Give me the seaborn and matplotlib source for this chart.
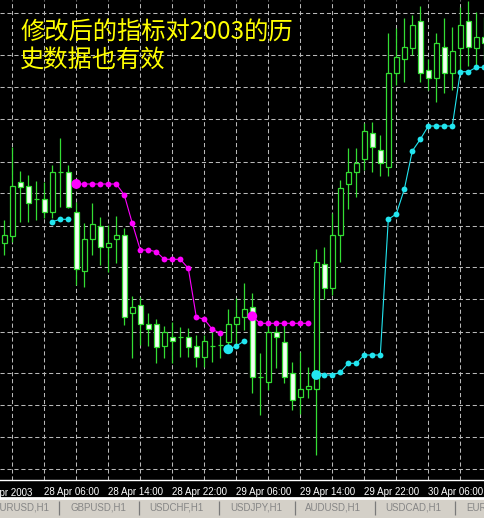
"""
MT4 风格 K线图复刻：EURUSD H1（2003年4月28-30日）+ 趋势止损指标
"""

import numpy as np
import pandas as pd
import matplotlib.pyplot as plt
import seaborn as sns

# ========== 数据 ==========
# 每根 H1 K线的开高低收（相对点位，图上读出）
bar_open = [236.7, 244, 298, 294, 280.7, 281, 268.3, 308.3, 308.3, 268.3,
            209, 240.7, 254, 232.7, 240.7, 245, 166.7, 175, 155.7, 155.7,
            134.3, 143.3, 143.3, 143.3, 134.3, 123.3, 134.3, 134.7, 138.3, 156,
            162.7, 172.7, 102.7, 98.3, 147.7, 138.3, 107.5, 83.5, 90.7, 90.7,
            215.7, 191.7, 245, 295.7, 308.3, 321, 346.7, 330, 313.3, 406.7,
            420.7, 431.7, 459.3, 410, 401.7, 433.3, 407.3, 431.7, 459.3, 431.7,
            442.7]
bar_high = [260, 333.3, 309.3, 305, 299.3, 298, 315, 341.7, 315, 278.3,
            256.7, 277.3, 262.7, 255, 264, 251.7, 184, 183, 166.7, 160.7,
            154, 158.3, 153.3, 151.7, 145, 145, 148.3, 146.7, 170.7, 181.7,
            197, 186.7, 127, 155, 155, 155, 118, 128, 113, 230.7,
            232.7, 266.7, 300, 331.7, 331.7, 357.3, 358, 345, 446.7, 451.7,
            461.7, 465, 474, 420.7, 446.7, 461.7, 453.3, 473.3, 479, 468.3,
            463.3]
bar_low = [225, 238.3, 258.3, 258.3, 260, 262, 262, 273.3, 272, 195,
           193.3, 225, 215, 208.3, 216.7, 155, 121.7, 135, 134, 117.3,
           121.7, 116.7, 123.3, 123.3, 113.3, 113.3, 118.3, 122, 130, 133.3,
           150, 87.3, 65, 90, 111.7, 96.7, 70, 66, 81.7, 25,
           181, 185, 218.3, 271, 283.5, 310.5, 308, 304, 304, 395,
           398.3, 425, 398.3, 390, 378.3, 386.7, 390, 410, 414, 413.3,
           420]
bar_close = [245, 294, 293.3, 276.7, 280.7, 268.3, 308.3, 308.3, 273.3, 210.7,
             240.7, 255.7, 232.7, 236.7, 245, 163.3, 172.7, 156, 151.3, 133.3,
             147.7, 139, 143.3, 132.7, 123.3, 139, 134.3, 134.7, 156, 163.3,
             170.7, 102.7, 102.7, 147.7, 143.3, 102.7, 80, 90.7, 94.3, 217.7,
             191.7, 245, 291.7, 308.3, 316.7, 349, 333, 316.7, 406.7, 422.7,
             433.3, 455, 406.7, 401.7, 437.3, 406.7, 429.3, 455, 433.3, 442.7,
             437.3]

# 指标：下降段（品红，压在价格上方）与上升段（青色，托在价格下方）
# 每段 = (起始K线序号, 各点数值)
down_segments = [
    (9, [296, 296, 296, 296, 296, 296, 285, 256.7, 230, 230,
         228.3, 220.7, 220.7, 220.7, 211.7, 163, 160.7, 150.7, 146.7]),
    (31, [163.7, 156.7, 156.7, 156.7, 156.7, 156.7, 156.7, 156.7]),
]
up_segments = [
    (6, [258.3, 260.7, 260.7]),
    (28, [130.7, 134, 139]),
    (39, [105, 105, 105, 107.7, 116.7, 116.7, 125, 125, 125, 260.7,
          266, 290.7, 329, 340.7, 354, 354, 354, 354, 408.3, 408.3,
          412.7, 412.7]),
]
# 信号起点（大圆点）
down_signal_bars = [9, 31]
up_signal_bars = [28, 39]

# 水平网格所在价位
grid_levels = [466.7, 425, 392.7, 360.7, 318.3, 286.7, 254.3, 212.7,
               180.7, 148.3, 106.7, 74.7, 42.7, 11]

# 时间轴
bar_times = pd.date_range('2003-04-28 01:00', periods=len(bar_open), freq='h')
first_label = '28 Apr 2003'

# 底部品种标签页
tab_names = ['EURUSD,H1', 'GBPUSD,H1', 'USDCHF,H1', 'USDJPY,H1',
             'AUDUSD,H1', 'USDCAD,H1', 'EURJPY,H1']

title_lines = ['修改后的指标对2003的历', '史数据也有效']

# ========== 样式 ==========
sns.set_style('dark', rc={'axes.facecolor': 'black', 'figure.facecolor': 'black'})
plt.rcParams['font.family'] = ['Liberation Sans', 'Noto Sans CJK SC', 'DejaVu Sans']
plt.rcParams['lines.scale_dashes'] = False

GREEN = '#33dd33'
BEAR_FILL = '#f2fff2'
MAGENTA = '#ff00ff'
CYAN = '#22e6f0'
GRID = '#b8b8b8'

W, H = 485, 518
fig = plt.figure(figsize=(W / 100, H / 100), dpi=100, facecolor='black')
ax = fig.add_axes([0, 1 - 479.5 / H, 1, 479.5 / H])
ax.set_facecolor('black')

# ========== 网格 ==========
for lv in grid_levels:
    ax.axhline(lv, color=GRID, lw=0.75, ls=(0, (3, 2)), zorder=1)
n = len(bar_open)
for b in range(1, n, 4):
    ax.axvline(b, color=GRID, lw=0.75, ls=(0, (3, 2)), zorder=1)

# ========== K线 ==========
o = np.array(bar_open)
h = np.array(bar_high)
l = np.array(bar_low)
c = np.array(bar_close)
x = np.arange(n)
bear = c < o

ax.vlines(x, l, h, color=GREEN, lw=0.9, zorder=2)
ax.bar(x, np.abs(c - o), bottom=np.minimum(o, c), width=0.6,
       color=np.where(bear, BEAR_FILL, 'black'), edgecolor=GREEN,
       linewidth=0.9, zorder=3)


# ========== 指标线 ==========
def segments_frame(segments):
    rows = []
    for sid, (start, vals) in enumerate(segments):
        for k, v in enumerate(vals):
            rows.append((start + k, v, sid))
    return pd.DataFrame(rows, columns=['bar', 'price', 'seg'])


for segs, sig, col in [(down_segments, down_signal_bars, MAGENTA),
                       (up_segments, up_signal_bars, CYAN)]:
    df = segments_frame(segs)
    sns.lineplot(data=df, x='bar', y='price', units='seg', estimator=None,
                 color=col, lw=0.8, marker='o', markersize=4.2,
                 markeredgewidth=0, ax=ax, zorder=5, legend=False)
    big = df[df['bar'].isin(sig)].drop_duplicates('bar')
    sns.scatterplot(data=big, x='bar', y='price', color=col, s=50,
                    edgecolor='none', ax=ax, zorder=6, legend=False)

# ========== 坐标轴 ==========
ax.set_xlim(-0.5375, 60.0875)
ax.set_ylim(0.5, 480)
ax.set_xlabel('')
ax.set_ylabel('')
ax.set_yticks([])

tick_idx = [i for i, t in enumerate(bar_times) if t.hour in (6, 14, 22)]
ax.set_xticks(tick_idx)
ax.set_xticklabels([bar_times[i].strftime('%d %b %H:%M') for i in tick_idx],
                   ha='left')
ax.tick_params(axis='x', colors='white', length=4, width=0.8, pad=1.2,
               labelsize=7, direction='out')
ax.text(-3.1, -0.018, first_label, transform=ax.get_xaxis_transform(),
        color='white', fontsize=7, ha='left', va='top', clip_on=False)

for side in ['top', 'left', 'right']:
    ax.spines[side].set_visible(False)
ax.spines['bottom'].set_color('white')
ax.spines['bottom'].set_linewidth(1)

# 标题（黄色中文）
for k, line in enumerate(title_lines):
    fig.text(20 / W, 1 - (33 + 27 * k) / H, line, color='#ffff00',
             fontsize=17.5, fontweight='medium', ha='left', va='center',
             family=['Noto Sans CJK SC', 'DejaVu Sans'])

# ========== 底部标签页 ==========
tab = fig.add_axes([0, 0, 1, 20 / H])
tab.set_facecolor('#d4d0c8')
tab.set_xlim(0, W)
tab.set_ylim(0, 1)
tab.set_xticks([])
tab.set_yticks([])
for side in ['left', 'right', 'bottom']:
    tab.spines[side].set_visible(False)
tab.spines['top'].set_color('white')
tab.spines['top'].set_linewidth(2)

tab_x = [-7, 71, 149.3, 230, 305, 385.7, 466.7]
sep_x = [59.3, 139.3, 219.3, 295, 375, 455]
for name, tx in zip(tab_names, tab_x):
    tab.text(tx, 0.5, name, color='#868686', fontsize=7, ha='left',
             va='center', clip_on=True)
tab.vlines(sep_x, 0.17, 0.83, color='#7a7a7a', lw=0.9)

fig.savefig('out.png', dpi=100, facecolor='black')
